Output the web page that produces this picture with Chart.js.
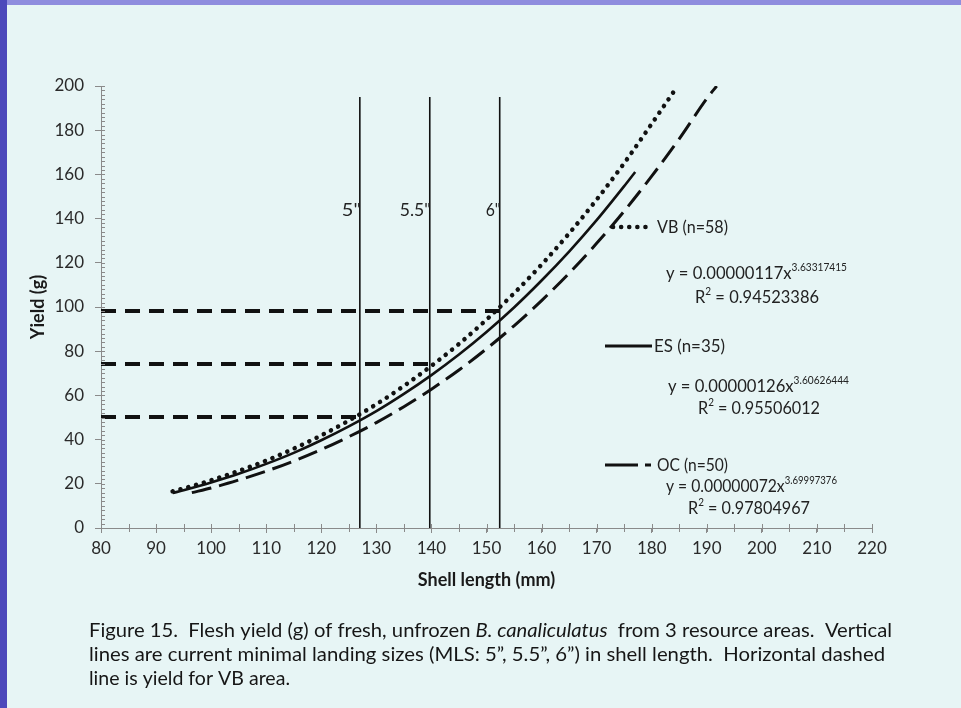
<!DOCTYPE html>
<html>
<head>
<meta charset="utf-8">
<script src="https://cdn.jsdelivr.net/npm/chart.js@4/dist/chart.umd.min.js"></script>
<style>
  html, body { margin: 0; padding: 0; background: #e7f5f5; }
  #marco { position: relative; width: 961px; height: 708px; overflow: hidden; background: #e7f5f5; }
  #bordeIzq { position: absolute; left: 0; top: 0; width: 7px; height: 708px; background: #4c48bb; }
  #bordeSup { position: absolute; left: 0; top: 0; width: 961px; height: 5px; background: #8f8dde; }
  #grafico { position: absolute; left: 0; top: 0; }
</style>
</head>
<body>
<div id="marco">
  <canvas id="grafico" width="961" height="708"></canvas>
  <div id="bordeSup"></div>
  <div id="bordeIzq"></div>
</div>
<script>
// shell length (mm) and yield (g)
var largoVB = [93, 95, 100, 105, 110, 115, 120, 125, 130, 135, 140, 145, 150, 155, 160, 165, 170, 175, 180, 184.7];
var pesoVB  = [16.6, 17.9, 21.6, 25.8, 30.5, 35.9, 41.9, 48.6, 56.0, 64.3, 73.4, 83.3, 94.3, 106.2, 119.2, 133.3, 148.6, 165.1, 182.9, 200];

var largoES = [93, 95, 100, 105, 110, 115, 120, 125, 130, 135, 140, 145, 150, 155, 160, 165, 170, 175, 177];
var pesoES  = [15.8, 17.1, 20.6, 24.5, 29.0, 34.0, 39.7, 46.0, 52.9, 60.7, 69.2, 78.5, 88.7, 99.8, 112.0, 125.1, 139.3, 154.7, 161.1];

var largoOC = [96.5, 100, 105, 110, 115, 120, 125, 130, 135, 140, 145, 150, 155, 160, 165, 170, 175, 180, 185, 190, 191.8];
var pesoOC  = [16.0, 18.1, 21.7, 25.7, 30.3, 35.5, 41.3, 47.7, 54.9, 62.8, 71.5, 81.1, 91.5, 102.9, 115.3, 128.8, 143.4, 159.2, 176.1, 194.3, 200];

// minimal landing sizes (5", 5.5", 6") in mm and VB yield at each one
var tallasMLS = [127, 139.7, 152.4];
var etiquetasMLS = ['5"', '5.5"', '6"'];
var pesoMLS = [50.2, 74.2, 98.2];
var topeMLS = 195;

// legend texts
var nombres = ['VB (n=58)', 'ES (n=35)', 'OC (n=50)'];
var ecuaciones = ['y = 0.00000117x', 'y = 0.00000126x', 'y = 0.00000072x'];
var exponentes = ['3.63317415', '3.60626444', '3.69997376'];
var erres = ['0.94523386', '0.95506012', '0.97804967'];

function puntos(xs, ys) {
  var out = [];
  for (var i = 0; i < xs.length; i++) out.push({ x: xs[i], y: ys[i] });
  return out;
}

var negro = '#111111';
var fuente = 'Lato, "Open Sans", sans-serif';

var datasets = [];

// horizontal dashed yield lines, from the y axis to each MLS line
for (var h = 0; h < tallasMLS.length; h++) {
  datasets.push({
    data: [{ x: 80, y: pesoMLS[h] }, { x: tallasMLS[h], y: pesoMLS[h] }],
    borderColor: negro, borderWidth: 4, borderDash: [15, 9], borderCapStyle: 'butt',
    pointRadius: 0, fill: false
  });
}
// vertical MLS lines
for (var v = 0; v < tallasMLS.length; v++) {
  datasets.push({
    data: [{ x: tallasMLS[v], y: 0 }, { x: tallasMLS[v], y: topeMLS }],
    borderColor: negro, borderWidth: 1.6, pointRadius: 0, fill: false
  });
}
// the three curves
datasets.push({
  data: puntos(largoOC, pesoOC), borderColor: negro, borderWidth: 3,
  borderDash: [20, 8], pointRadius: 0, fill: false, cubicInterpolationMode: 'monotone'
});
datasets.push({
  data: puntos(largoES, pesoES), borderColor: negro, borderWidth: 2.6,
  pointRadius: 0, fill: false, cubicInterpolationMode: 'monotone'
});
datasets.push({
  data: puntos(largoVB, pesoVB), borderColor: negro, borderWidth: 4.5,
  borderDash: [0.1, 8], borderCapStyle: 'round', pointRadius: 0, fill: false,
  cubicInterpolationMode: 'monotone'
});

// draw runs of text squeezed to a given width (Calibri is narrower than Lato)
function pintarTexto(ctx, trozos, x, base, ancho) {
  var total = 0;
  trozos.forEach(function (t) {
    ctx.font = t.f;
    t.w = ctx.measureText(t.s).width;
    total += t.w;
  });
  var k = ancho ? ancho / total : 1;
  ctx.save();
  ctx.translate(x, base);
  ctx.scale(k, 1);
  ctx.textBaseline = 'alphabetic';
  ctx.textAlign = 'left';
  var cx = 0;
  trozos.forEach(function (t) {
    ctx.font = t.f;
    ctx.fillText(t.s, cx, t.dy || 0);
    cx += t.w;
  });
  ctx.restore();
}

var extras = {
  id: 'extras',
  afterDraw: function (chart) {
    var ctx = chart.ctx;
    var sx = chart.scales.x, sy = chart.scales.y;
    var x0 = sx.getPixelForValue(80), y0 = sy.getPixelForValue(0);

    ctx.save();
    ctx.strokeStyle = '#8a8a8a';
    ctx.lineWidth = 1;
    // minor ticks on y axis (inside)
    for (var m = 2; m <= 200; m += 2) {
      var py = Math.round(sy.getPixelForValue(m)) + 0.5;
      ctx.beginPath(); ctx.moveTo(x0, py); ctx.lineTo(x0 + 4, py); ctx.stroke();
    }
    // ticks every 5 mm across the x axis
    for (var n = 85; n <= 220; n += 5) {
      var px = Math.round(sx.getPixelForValue(n)) + 0.5;
      ctx.beginPath(); ctx.moveTo(px, y0 - 4); ctx.lineTo(px, y0 + 4); ctx.stroke();
    }
    ctx.restore();

    ctx.save();
    ctx.fillStyle = '#222222';
    // MLS labels, right against each vertical line
    var anchosMLS = [19, 31, 15];
    for (var i = 0; i < tallasMLS.length; i++) {
      var lx = sx.getPixelForValue(tallasMLS[i]);
      pintarTexto(ctx, [{ s: etiquetasMLS[i], f: '18px ' + fuente }], lx - anchosMLS[i] + 1, 216, anchosMLS[i]);
    }

    // legend samples
    ctx.strokeStyle = negro;
    ctx.lineWidth = 4.5; ctx.lineCap = 'round'; ctx.setLineDash([0.1, 8]);
    ctx.beginPath(); ctx.moveTo(613, 227); ctx.lineTo(649, 227); ctx.stroke();
    ctx.lineCap = 'butt'; ctx.setLineDash([]); ctx.lineWidth = 3;
    ctx.beginPath(); ctx.moveTo(605, 346); ctx.lineTo(652, 346); ctx.stroke();
    ctx.beginPath(); ctx.moveTo(605, 465); ctx.lineTo(638, 465); ctx.moveTo(645, 465); ctx.lineTo(651, 465); ctx.stroke();

    // legend names, equations and R²
    var nx = [657, 654, 657], ny = [233, 352, 471];
    var ex = [666, 668, 666], ey = [279, 392, 492], ew = [181, 181, 171];
    var rx = [695, 698, 688], ry = [303, 414, 514], rw = [124, 122, 122];
    for (var j = 0; j < 3; j++) {
      pintarTexto(ctx, [{ s: nombres[j], f: '18px ' + fuente }], nx[j], ny[j], 71);
      pintarTexto(ctx, [
        { s: ecuaciones[j], f: '18px ' + fuente },
        { s: exponentes[j], f: '11px ' + fuente, dy: -8 }
      ], ex[j], ey[j], ew[j]);
      pintarTexto(ctx, [
        { s: 'R', f: '18px ' + fuente },
        { s: '2', f: '11px ' + fuente, dy: -8 },
        { s: ' = ' + erres[j], f: '18px ' + fuente }
      ], rx[j], ry[j], rw[j]);
    }

    // caption under the chart
    ctx.fillStyle = '#161616';
    var fc = '20px ' + fuente, fi = 'italic 20px ' + fuente;
    pintarTexto(ctx, [
      { s: 'Figure 15.  Flesh yield (g) of fresh, unfrozen ', f: fc },
      { s: 'B. canaliculatus', f: fi },
      { s: '  from 3 resource areas.  Vertical', f: fc }
    ], 89, 637, 803);
    pintarTexto(ctx, [
      { s: 'lines are current minimal landing sizes (MLS: 5\u201D, 5.5\u201D, 6\u201D) in shell length.  Horizontal dashed', f: fc }
    ], 89, 661, 796);
    pintarTexto(ctx, [{ s: 'line is yield for VB area.', f: fc }], 89, 685, 201);
    ctx.restore();
  }
};

var lienzo = document.getElementById('grafico');
var grafico = new Chart(lienzo, {
  type: 'line',
  data: { datasets: datasets },
  options: {
    responsive: false,
    animation: false,
    devicePixelRatio: 1,
    layout: { padding: { left: 0, right: 89, top: 86, bottom: 0 } },
    plugins: { legend: { display: false }, tooltip: { enabled: false } },
    elements: { line: { tension: 0 } },
    scales: {
      x: {
        type: 'linear', min: 80, max: 220,
        afterFit: function (s) { s.height = 180; },
        ticks: { stepSize: 10, color: '#2a2a2a', padding: 5, font: { family: fuente, size: 17 } },
        grid: { drawOnChartArea: false, drawTicks: true, tickLength: 5, color: '#8a8a8a' },
        border: { color: '#8a8a8a', width: 1 },
        title: {
          display: true, text: 'Shell length (mm)', color: '#1a1a1a',
          font: { family: fuente, size: 18, weight: 'bold' }, padding: { top: 0, bottom: 117 }
        }
      },
      y: {
        type: 'linear', min: 0, max: 200,
        afterFit: function (s) { s.width = 101; },
        ticks: { stepSize: 20, color: '#2a2a2a', padding: 11, font: { family: fuente, size: 17 } },
        grid: { drawOnChartArea: false, drawTicks: true, tickLength: 6, color: '#8a8a8a' },
        border: { color: '#8a8a8a', width: 1 },
        title: {
          display: true, text: 'Yield (g)', color: '#1a1a1a',
          font: { family: fuente, size: 18, weight: 'bold' }, padding: { top: 27, bottom: 0 }
        }
      }
    }
  },
  plugins: [extras]
});
</script>
</body>
</html>
